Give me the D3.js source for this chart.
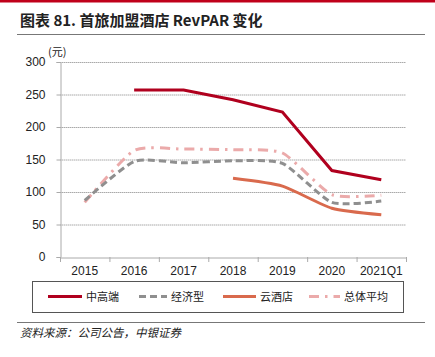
<!DOCTYPE html>
<html><head><meta charset="utf-8">
<script src="https://cdn.jsdelivr.net/npm/d3@7"></script>
<style>body{margin:0;background:#fff;} svg{display:block;}</style>
</head><body>
<svg id="c" width="435" height="357"></svg>
<script>
const categories = ["2015","2016","2017","2018","2019","2020","2021Q1"];
const midHigh = [null, 257, 257, 242, 223, 133, 119];
const economy = [87, 147, 145, 148, 144, 84, 86];
const cloud = [null, null, null, 121, 109, 75, 65];
const overall = [84, 164, 166, 165, 160, 96, 95];
const yTicks = [0, 50, 100, 150, 200, 250, 300];
const seriesNames = ["中高端", "经济型", "云酒店", "总体平均"];

const svg = d3.select("#c");
const font = "'Liberation Sans', Arial, sans-serif";
const cjk = "'Noto Sans CJK SC', sans-serif";

svg.append("rect").attr("x",0).attr("y",0).attr("width",435).attr("height",2.5).attr("fill","#C0001A");
svg.append("text").attr("x",20).attr("y",26).attr("font-family",cjk).attr("font-weight","bold")
  .attr("font-size",15).attr("fill","#222").text("图表 81. 首旅加盟酒店 RevPAR 变化");
svg.append("line").attr("x1",17).attr("x2",425).attr("y1",34.5).attr("y2",34.5).attr("stroke","#777").attr("stroke-width",1);

const x = d3.scaleBand().domain(categories).range([60,406]).padding(0);
const y = d3.scaleLinear().domain([0,300]).range([257,62]);

svg.append("g").selectAll("line").data(yTicks.filter(d=>d>0)).join("line")
  .attr("x1",60).attr("x2",406).attr("y1",d=>y(d)+0.5).attr("y2",d=>y(d)+0.5)
  .attr("stroke","#aaa").attr("stroke-width",1).attr("stroke-dasharray","1.5,0.5");

const ya = svg.append("g").attr("transform","translate(60.5,0)")
  .call(d3.axisLeft(y).tickValues(yTicks).tickSize(4).tickPadding(11));
ya.select(".domain").attr("stroke","#aaa");
ya.selectAll(".tick line").attr("stroke","#aaa");
ya.selectAll("text").attr("font-family",font).attr("font-size",12).attr("fill","#222");

const xa = svg.append("g").attr("transform","translate(0,257.5)")
  .call(d3.axisBottom(x).tickSize(0).tickPadding(9));
xa.select(".domain").attr("stroke","#aaa");
xa.selectAll("text").attr("font-family",font).attr("font-size",12).attr("fill","#222");
svg.append("g").selectAll("line").data(d3.range(categories.length+1)).join("line")
  .attr("x1",i=>60+i*x.bandwidth()+0.5).attr("x2",i=>60+i*x.bandwidth()+0.5)
  .attr("y1",257).attr("y2",262).attr("stroke","#aaa");

svg.append("text").attr("x",48).attr("y",56).attr("font-family",cjk).attr("font-size",11).attr("fill","#222").text("(元)");

const cx = d => x(d)+x.bandwidth()/2;
function draw(vals, color, width, dash, curve){
  const pts = categories.map((c,i)=>[c, vals[i]]).filter(p=>p[1]!=null);
  const line = d3.line().x(p=>cx(p[0])).y(p=>y(p[1])).curve(curve);
  svg.append("path").attr("d",line(pts)).attr("fill","none").attr("stroke",color)
    .attr("stroke-width",width).attr("stroke-dasharray",dash).attr("stroke-linecap","butt");
}
const colors = ["#B0001E", "#8F8F8F", "#D96A4D", "#EBAAAA"];
const dashes = [null, "7,4", null, "10,6,2.5,6"];
const smooth = d3.curveCardinal.tension(0.4);
const curves = [d3.curveLinear, smooth, smooth, smooth];
draw(overall, colors[3], 3, dashes[3], curves[3]);
draw(economy, colors[1], 3, dashes[1], curves[1]);
draw(cloud, colors[2], 3, dashes[2], curves[2]);
draw(midHigh, colors[0], 3, dashes[0], curves[0]);

svg.append("rect").attr("x",32.5).attr("y",281.5).attr("width",371).attr("height",31)
  .attr("fill","none").attr("stroke","#555").attr("stroke-width",1);
const legX = [48, 139, 223, 309];
const legW = [34, 28, 33, 31];
seriesNames.forEach((n,i)=>{
  svg.append("line").attr("x1",legX[i]).attr("x2",legX[i]+legW[i]).attr("y1",296.5).attr("y2",296.5)
    .attr("stroke",colors[i]).attr("stroke-width",3).attr("stroke-dasharray",dashes[i]);
  svg.append("text").attr("x",legX[i]+legW[i]+4).attr("y",300.5).attr("font-family",cjk)
    .attr("font-size",11).attr("fill","#222").text(n);
});

svg.append("line").attr("x1",17).attr("x2",425).attr("y1",322.5).attr("y2",322.5).attr("stroke","#777");
svg.append("text").attr("x",20).attr("y",337).attr("font-family",cjk).attr("font-style","italic")
  .attr("font-size",11.5).attr("fill","#222").text("资料来源：公司公告，中银证券");
</script>
</body></html>
